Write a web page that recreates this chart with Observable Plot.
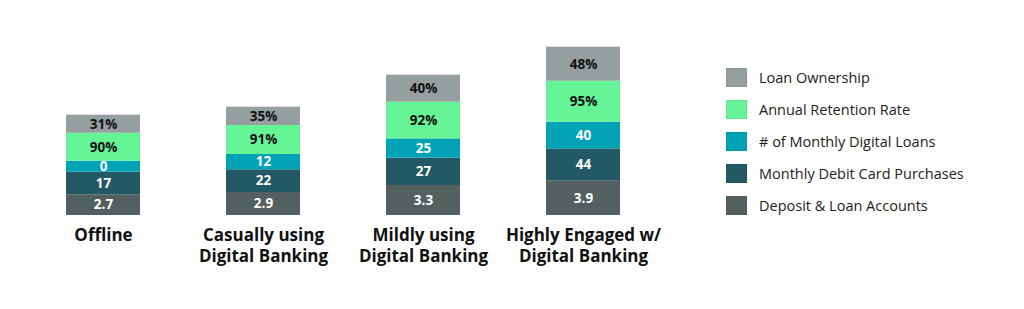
<!DOCTYPE html>
<html>
<head>
<meta charset="utf-8">
<script src="https://cdn.jsdelivr.net/npm/d3@7"></script>
<script src="https://cdn.jsdelivr.net/npm/@observablehq/plot@0.6"></script>
<style>
  html, body { margin: 0; padding: 0; background: #fff; }
  #wrap { position: relative; width: 1024px; height: 309px; overflow: hidden; }
  #legend { position: absolute; left: 726px; top: 68px; font-family: "Open Sans", sans-serif; font-size: 14.5px; color: #222; }
  .row { display: flex; align-items: center; height: 19px; margin-bottom: 13px; }
  .sw { width: 21px; height: 19px; margin-right: 12px; box-sizing: border-box; border: 1px solid rgba(0,0,0,0.06); }
</style>
</head>
<body>
<div id="wrap"><div id="chart"></div><div id="legend"></div></div>
<script>
// Categories (bar groups)
const categories = ["Offline", "Casually using\nDigital Banking", "Mildly using\nDigital Banking", "Highly Engaged w/\nDigital Banking"];
// Series, bottom to top
const series = ["Deposit & Loan Accounts", "Monthly Debit Card Purchases", "# of Monthly Digital Loans", "Annual Retention Rate", "Loan Ownership"];
const colors = ["#545F60", "#235865", "#00A2B5", "#65F597", "#959FA0"];
const textColors = ["#fff", "#fff", "#fff", "#111", "#111"];
// Value labels shown in each segment
const depositLoanAccounts = ["2.7", "2.9", "3.3", "3.9"];
const debitCardPurchases = ["17", "22", "27", "44"];
const digitalLoans = ["0", "12", "25", "40"];
const retentionRate = ["90%", "91%", "92%", "95%"];
const loanOwnership = ["31%", "35%", "40%", "48%"];
// Segment sizes as drawn in the picture (visual units)
const depositLoanSize = [20.7, 23, 30, 34.3];
const debitCardSize = [22.6, 22.7, 27.3, 32.3];
const digitalLoansSize = [11, 15.3, 19.3, 26.7];
const retentionSize = [28, 29, 36.7, 41];
const loanOwnershipSize = [18, 18.3, 27, 34];

const labelsBySeries = [depositLoanAccounts, debitCardPurchases, digitalLoans, retentionRate, loanOwnership];
const sizesBySeries = [depositLoanSize, debitCardSize, digitalLoansSize, retentionSize, loanOwnershipSize];

const data = [];
categories.forEach((c, i) => {
  series.forEach((s, j) => {
    data.push({cat: c, series: s, size: sizesBySeries[j][i], label: labelsBySeries[j][i], tc: textColors[j]});
  });
});

const chart = Plot.plot({
  width: 700,
  height: 309,
  marginTop: 0,
  marginBottom: 94,
  marginLeft: 49.6,
  marginRight: 63.7,
  style: {background: "transparent"},
  x: {domain: categories, paddingInner: 0.54, paddingOuter: 0.1, axis: null},
  y: {domain: [0, 215], axis: null},
  color: {domain: series, range: colors},
  marks: [
    Plot.barY(data, {x: "cat", y: "size", fill: "series", order: null}),
    Plot.text(data, Plot.stackY({x: "cat", y: "size", text: "label", fill: "tc", order: null,
      fontFamily: "Open Sans, sans-serif", fontWeight: 700, fontSize: 13.5})),
    Plot.axisX({domain: categories, tickSize: 0, tickPadding: 0, lineAnchor: "top", dy: 10,
      fontFamily: "Open Sans, sans-serif", fontWeight: 700, fontSize: 17, fill: "#111",
      lineHeight: 1.25, label: null})
  ]
});
document.getElementById("chart").appendChild(chart);

const legend = document.getElementById("legend");
for (let j = series.length - 1; j >= 0; j--) {
  const row = document.createElement("div");
  row.className = "row";
  const sw = document.createElement("div");
  sw.className = "sw";
  sw.style.background = colors[j];
  const t = document.createElement("span");
  t.textContent = series[j];
  row.appendChild(sw);
  row.appendChild(t);
  legend.appendChild(row);
}
</script>
</body>
</html>
